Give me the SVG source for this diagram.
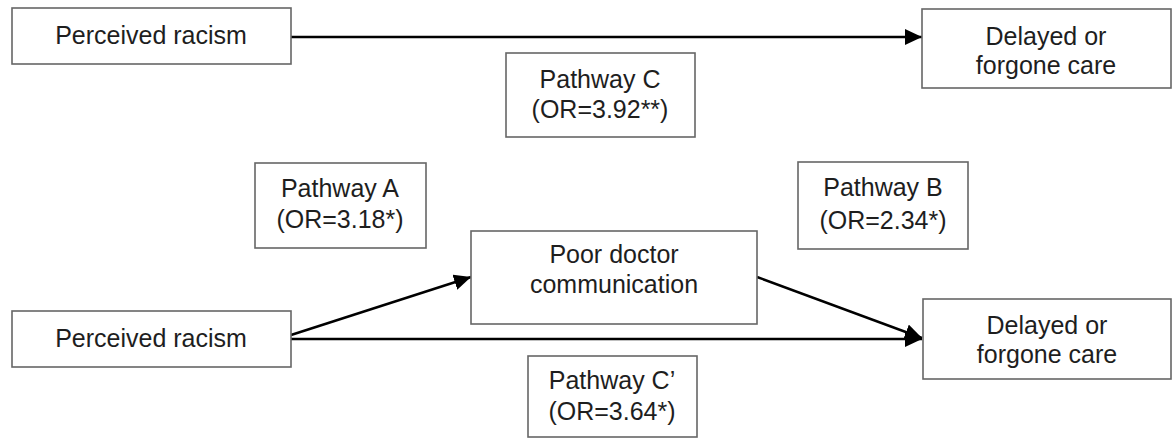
<svg xmlns="http://www.w3.org/2000/svg" width="1173" height="439" viewBox="0 0 1173 439">
  <style>
    .box { fill: #ffffff; stroke: #666666; stroke-width: 1.6; }
    .lbl { font-family: "Liberation Sans", Arial, sans-serif; font-size: 25px; fill: #1e1e1e; text-anchor: middle; }
    .conn { stroke: #000000; stroke-width: 2.4; fill: none; marker-end: url(#arrow); }
  </style>
  <defs>
    <marker id="arrow" markerUnits="userSpaceOnUse" markerWidth="18" markerHeight="16" refX="17" refY="8" orient="auto">
      <path d="M0,0 L17,8 L0,16 z" fill="#000000"/>
    </marker>
  </defs>
  <rect width="1173" height="439" fill="#ffffff"/>

  <g id="connectors">
    <line class="conn" x1="291" y1="37" x2="922" y2="37"/>
    <line class="conn" x1="291" y1="335" x2="471" y2="277"/>
    <line class="conn" x1="757" y1="277" x2="922" y2="338"/>
    <line class="conn" x1="291" y1="339" x2="922" y2="339"/>
  </g>

  <g id="racism-top">
    <rect class="box" x="12" y="8" width="279" height="56"/>
    <text class="lbl" x="151" y="44">Perceived racism</text>
  </g>
  <g id="delayed-top">
    <rect class="box" x="922" y="9" width="249" height="79"/>
    <text class="lbl" x="1046" y="45">Delayed or</text>
    <text class="lbl" x="1046" y="74">forgone care</text>
  </g>
  <g id="pathway-c">
    <rect class="box" x="506" y="53" width="189" height="84"/>
    <text class="lbl" x="600" y="88">Pathway C</text>
    <text class="lbl" x="600" y="118">(OR=3.92**)</text>
  </g>
  <g id="pathway-a">
    <rect class="box" x="255" y="163" width="171" height="85"/>
    <text class="lbl" x="340" y="197">Pathway A</text>
    <text class="lbl" x="340" y="228">(OR=3.18*)</text>
  </g>
  <g id="pathway-b">
    <rect class="box" x="798" y="162" width="170" height="87"/>
    <text class="lbl" x="883" y="196">Pathway B</text>
    <text class="lbl" x="883" y="229">(OR=2.34*)</text>
  </g>
  <g id="poor-doctor">
    <rect class="box" x="471" y="231" width="286" height="93"/>
    <text class="lbl" x="614" y="263">Poor doctor</text>
    <text class="lbl" x="614" y="293">communication</text>
  </g>
  <g id="racism-bottom">
    <rect class="box" x="12" y="311" width="279" height="56"/>
    <text class="lbl" x="151" y="347">Perceived racism</text>
  </g>
  <g id="delayed-bottom">
    <rect class="box" x="923" y="299" width="248" height="80"/>
    <text class="lbl" x="1047" y="334">Delayed or</text>
    <text class="lbl" x="1047" y="363">forgone care</text>
  </g>
  <g id="pathway-c-prime">
    <rect class="box" x="528" y="356" width="169" height="81"/>
    <text class="lbl" x="612" y="389">Pathway C’</text>
    <text class="lbl" x="612" y="420">(OR=3.64*)</text>
  </g>
</svg>
